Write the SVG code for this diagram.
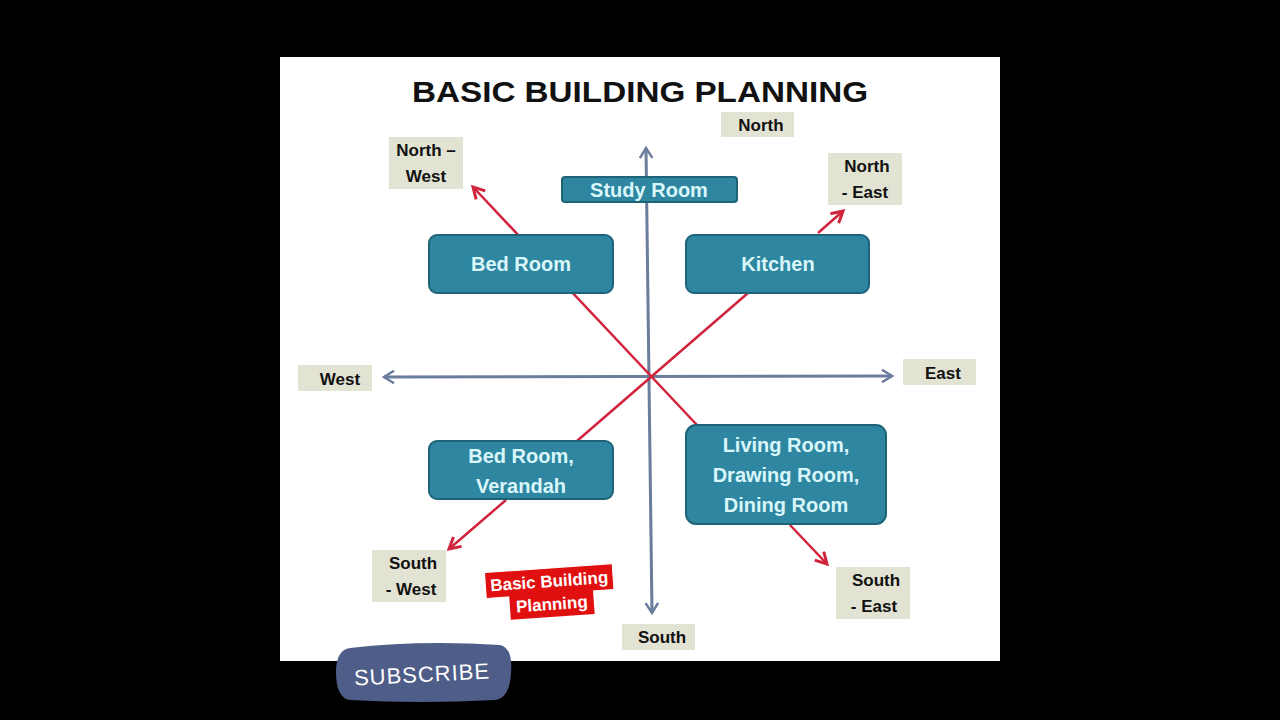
<svg xmlns="http://www.w3.org/2000/svg" width="1280" height="720" viewBox="0 0 1280 720">
<style>
.room rect{fill:#2f86a0;stroke:#1d6479;stroke-width:2}
.room text{font-family:"Liberation Sans",Arial,sans-serif;font-weight:bold;font-size:20px;fill:#d9f7fb;text-anchor:middle}
.lbl rect{fill:#e2e3d3}
.lbl text{font-family:"Liberation Sans",Arial,sans-serif;font-weight:bold;font-size:17px;fill:#111;text-anchor:middle}
.axis{stroke:#6b7c9c;stroke-width:3;fill:none}
.diag{stroke:#d0233c;stroke-width:2.5;fill:none}
</style>
<defs>
<marker id="ah-b" viewBox="0 0 12 12" refX="10" refY="6" markerWidth="5" markerHeight="5" orient="auto-start-reverse" markerUnits="strokeWidth">
<polyline points="2,1 10,6 2,11" fill="none" stroke="#6b7c9c" stroke-width="2"/>
</marker>
<marker id="ah-r" viewBox="0 0 12 12" refX="10" refY="6" markerWidth="6" markerHeight="6" orient="auto" markerUnits="strokeWidth">
<polyline points="1,1 10,6 1,11" fill="none" stroke="#d0233c" stroke-width="2.4"/>
</marker>
</defs>
<rect width="1280" height="720" fill="#000"/>
<rect x="280" y="57" width="720" height="604" fill="#fff"/>
<text x="640" y="102" font-family="Liberation Sans,Arial,sans-serif" font-weight="bold" font-size="30" text-anchor="middle" textLength="456" lengthAdjust="spacingAndGlyphs" fill="#111">BASIC BUILDING PLANNING</text>

<g id="connectors">
<line class="axis" x1="646" y1="148" x2="652" y2="613" marker-start="url(#ah-b)" marker-end="url(#ah-b)"/>
<line class="axis" x1="384" y1="377" x2="892" y2="376" marker-start="url(#ah-b)" marker-end="url(#ah-b)"/>
<line class="diag" x1="697" y1="425" x2="473" y2="187" marker-end="url(#ah-r)"/>
<line class="diag" x1="577" y1="441" x2="748" y2="293"/>
<line class="diag" x1="818" y1="233" x2="843" y2="211" marker-end="url(#ah-r)"/>
<line class="diag" x1="506" y1="500" x2="449" y2="549" marker-end="url(#ah-r)"/>
<line class="diag" x1="790" y1="525" x2="827" y2="564" marker-end="url(#ah-r)"/>
</g>

<g id="study-room" class="room"><rect x="562" y="177" width="175" height="25" rx="3"/><text x="649" y="197">Study Room</text></g>
<g id="bed-room" class="room"><rect x="429" y="235" width="184" height="58" rx="8"/><text x="521" y="271">Bed Room</text></g>
<g id="kitchen" class="room"><rect x="686" y="235" width="183" height="58" rx="8"/><text x="778" y="271">Kitchen</text></g>
<g id="bed-room-verandah" class="room"><rect x="429" y="441" width="184" height="58" rx="8"/><text x="521" y="463">Bed Room,</text><text x="521" y="493">Verandah</text></g>
<g id="living-room" class="room"><rect x="686" y="425" width="200" height="99" rx="10"/><text x="786" y="452">Living Room,</text><text x="786" y="482">Drawing Room,</text><text x="786" y="512">Dining Room</text></g>

<g id="north" class="lbl"><rect x="721" y="112" width="73" height="25"/><text x="761" y="131">North</text></g>
<g id="north-west" class="lbl"><rect x="389" y="137" width="74" height="52"/><text x="426" y="156">North –</text><text x="426" y="182">West</text></g>
<g id="north-east" class="lbl"><rect x="828" y="153" width="74" height="52"/><text x="867" y="172">North</text><text x="865" y="198">- East</text></g>
<g id="west" class="lbl"><rect x="298" y="365" width="74" height="26"/><text x="340" y="385">West</text></g>
<g id="east" class="lbl"><rect x="903" y="359" width="73" height="26"/><text x="943" y="379">East</text></g>
<g id="south-west" class="lbl"><rect x="372" y="550" width="74" height="52"/><text x="413" y="569">South</text><text x="411" y="595">- West</text></g>
<g id="south-east" class="lbl"><rect x="836" y="567" width="74" height="52"/><text x="876" y="586">South</text><text x="874" y="612">- East</text></g>
<g id="south" class="lbl"><rect x="622" y="624" width="73" height="26"/><text x="662" y="643">South</text></g>

<g id="sticker" transform="rotate(-4 550 592)" font-family="Liberation Sans,Arial,sans-serif" font-weight="bold" font-size="17" fill="#fff" text-anchor="middle">
<rect x="486" y="568" width="128" height="26" fill="#e01010" stroke="#fff" stroke-width="1"/>
<rect x="509" y="592" width="84" height="25" fill="#e01010"/>
<text x="550" y="587">Basic Building</text>
<text x="551" y="610">Planning</text>
</g>

<g id="subscribe">
<path d="M350,648 Q420,640 500,645 Q513,648 511,672 Q510,698 495,700 Q420,704 350,700 Q336,698 336,672 Q336,650 350,648 Z" fill="#4f5e88"/>
<text x="422" y="682" font-family="Liberation Sans,Arial,sans-serif" font-size="22" fill="#fff" text-anchor="middle" transform="rotate(-3 422 675)" letter-spacing="1">SUBSCRIBE</text>
</g>
</svg>
